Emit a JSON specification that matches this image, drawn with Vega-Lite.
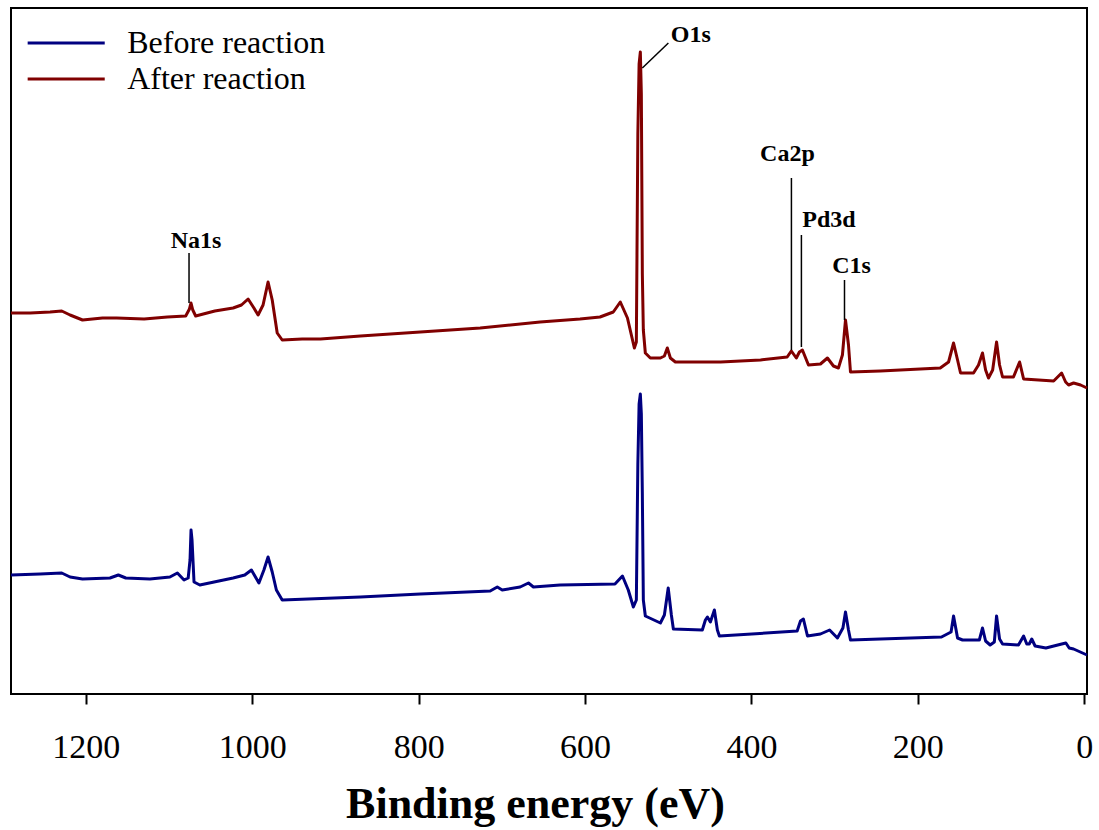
{
  "$schema": "https://vega.github.io/schema/vega-lite/v6.json",
  "width": 1076,
  "height": 686,
  "autosize": "none",
  "padding": {"left": 11, "top": 8, "right": 12, "bottom": 136},
  "background": "white",
  "config": {"view": {"stroke": "black", "strokeWidth": 2}, "font": "Liberation Serif"},
  "datasets": {
    "spectra": [
      {"s": "After reaction", "e": 1290, "i": 381}, {"s": "After reaction", "e": 1267, "i": 381}, {"s": "After reaction", "e": 1243, "i": 382}, {"s": "After reaction", "e": 1229, "i": 383}, {"s": "After reaction", "e": 1219, "i": 379}, {"s": "After reaction", "e": 1204, "i": 374}, {"s": "After reaction", "e": 1180, "i": 376}, {"s": "After reaction", "e": 1163, "i": 376}, {"s": "After reaction", "e": 1130, "i": 375}, {"s": "After reaction", "e": 1102, "i": 377}, {"s": "After reaction", "e": 1080, "i": 378}, {"s": "After reaction", "e": 1075.5, "i": 385}, {"s": "After reaction", "e": 1073.6, "i": 391}, {"s": "After reaction", "e": 1071.5, "i": 384}, {"s": "After reaction", "e": 1068, "i": 378}, {"s": "After reaction", "e": 1045, "i": 383}, {"s": "After reaction", "e": 1023, "i": 386}, {"s": "After reaction", "e": 1013, "i": 389}, {"s": "After reaction", "e": 1005, "i": 395}, {"s": "After reaction", "e": 998, "i": 386}, {"s": "After reaction", "e": 993, "i": 379}, {"s": "After reaction", "e": 987, "i": 389}, {"s": "After reaction", "e": 981, "i": 412}, {"s": "After reaction", "e": 976, "i": 394}, {"s": "After reaction", "e": 970, "i": 361}, {"s": "After reaction", "e": 964, "i": 354}, {"s": "After reaction", "e": 940, "i": 355}, {"s": "After reaction", "e": 918, "i": 355}, {"s": "After reaction", "e": 870, "i": 358}, {"s": "After reaction", "e": 798, "i": 362}, {"s": "After reaction", "e": 726, "i": 366}, {"s": "After reaction", "e": 654, "i": 372}, {"s": "After reaction", "e": 606, "i": 375}, {"s": "After reaction", "e": 582, "i": 377}, {"s": "After reaction", "e": 566, "i": 382}, {"s": "After reaction", "e": 557.6, "i": 392}, {"s": "After reaction", "e": 549, "i": 376}, {"s": "After reaction", "e": 540.7, "i": 346}, {"s": "After reaction", "e": 538.3, "i": 352}, {"s": "After reaction", "e": 536.5, "i": 560}, {"s": "After reaction", "e": 535, "i": 630}, {"s": "After reaction", "e": 533.5, "i": 642}, {"s": "After reaction", "e": 532.3, "i": 600}, {"s": "After reaction", "e": 531.1, "i": 420}, {"s": "After reaction", "e": 529.9, "i": 364}, {"s": "After reaction", "e": 527.5, "i": 341}, {"s": "After reaction", "e": 521.5, "i": 336}, {"s": "After reaction", "e": 509.4, "i": 336}, {"s": "After reaction", "e": 504.6, "i": 338}, {"s": "After reaction", "e": 501.1, "i": 346}, {"s": "After reaction", "e": 497.4, "i": 336}, {"s": "After reaction", "e": 491.4, "i": 332}, {"s": "After reaction", "e": 437, "i": 332}, {"s": "After reaction", "e": 389, "i": 334}, {"s": "After reaction", "e": 357, "i": 337}, {"s": "After reaction", "e": 352, "i": 343}, {"s": "After reaction", "e": 346, "i": 336}, {"s": "After reaction", "e": 342.3, "i": 342}, {"s": "After reaction", "e": 338.7, "i": 344}, {"s": "After reaction", "e": 331.4, "i": 329}, {"s": "After reaction", "e": 317, "i": 330}, {"s": "After reaction", "e": 308.6, "i": 336}, {"s": "After reaction", "e": 301.4, "i": 328}, {"s": "After reaction", "e": 295.4, "i": 326}, {"s": "After reaction", "e": 290.6, "i": 339}, {"s": "After reaction", "e": 286.9, "i": 374}, {"s": "After reaction", "e": 283.3, "i": 349}, {"s": "After reaction", "e": 280.9, "i": 322}, {"s": "After reaction", "e": 245, "i": 323}, {"s": "After reaction", "e": 197, "i": 325}, {"s": "After reaction", "e": 173, "i": 326}, {"s": "After reaction", "e": 163, "i": 332}, {"s": "After reaction", "e": 157, "i": 351}, {"s": "After reaction", "e": 152.2, "i": 334}, {"s": "After reaction", "e": 148.6, "i": 321}, {"s": "After reaction", "e": 133, "i": 321}, {"s": "After reaction", "e": 127, "i": 329}, {"s": "After reaction", "e": 122.2, "i": 341}, {"s": "After reaction", "e": 118.5, "i": 324}, {"s": "After reaction", "e": 115, "i": 316}, {"s": "After reaction", "e": 110, "i": 324}, {"s": "After reaction", "e": 105.3, "i": 352}, {"s": "After reaction", "e": 101.7, "i": 329}, {"s": "After reaction", "e": 98.1, "i": 317}, {"s": "After reaction", "e": 85, "i": 317}, {"s": "After reaction", "e": 77.6, "i": 332}, {"s": "After reaction", "e": 72.8, "i": 315}, {"s": "After reaction", "e": 36.7, "i": 313}, {"s": "After reaction", "e": 30.7, "i": 318}, {"s": "After reaction", "e": 27.1, "i": 321}, {"s": "After reaction", "e": 22.3, "i": 312}, {"s": "After reaction", "e": 18.7, "i": 309}, {"s": "After reaction", "e": 12.7, "i": 311}, {"s": "After reaction", "e": 4.3, "i": 309}, {"s": "After reaction", "e": -3.4, "i": 306},
      {"s": "Before reaction", "e": 1290, "i": 119}, {"s": "Before reaction", "e": 1255, "i": 120}, {"s": "Before reaction", "e": 1229, "i": 121}, {"s": "Before reaction", "e": 1219, "i": 117}, {"s": "Before reaction", "e": 1204, "i": 115}, {"s": "Before reaction", "e": 1171, "i": 116}, {"s": "Before reaction", "e": 1161, "i": 119}, {"s": "Before reaction", "e": 1152, "i": 116}, {"s": "Before reaction", "e": 1123, "i": 115}, {"s": "Before reaction", "e": 1099, "i": 117}, {"s": "Before reaction", "e": 1090, "i": 121}, {"s": "Before reaction", "e": 1082, "i": 114}, {"s": "Before reaction", "e": 1077, "i": 116}, {"s": "Before reaction", "e": 1074.8, "i": 134}, {"s": "Before reaction", "e": 1073.6, "i": 164}, {"s": "Before reaction", "e": 1072.4, "i": 154}, {"s": "Before reaction", "e": 1070, "i": 112}, {"s": "Before reaction", "e": 1063, "i": 109}, {"s": "Before reaction", "e": 1023, "i": 116}, {"s": "Before reaction", "e": 1009, "i": 119}, {"s": "Before reaction", "e": 1001, "i": 124}, {"s": "Before reaction", "e": 992, "i": 111}, {"s": "Before reaction", "e": 986, "i": 124}, {"s": "Before reaction", "e": 981, "i": 137}, {"s": "Before reaction", "e": 976, "i": 122}, {"s": "Before reaction", "e": 971, "i": 104}, {"s": "Before reaction", "e": 964, "i": 94}, {"s": "Before reaction", "e": 870, "i": 97}, {"s": "Before reaction", "e": 798, "i": 100}, {"s": "Before reaction", "e": 714, "i": 103}, {"s": "Before reaction", "e": 705.5, "i": 107}, {"s": "Before reaction", "e": 699.5, "i": 104}, {"s": "Before reaction", "e": 678, "i": 107}, {"s": "Before reaction", "e": 668, "i": 111}, {"s": "Before reaction", "e": 662, "i": 107}, {"s": "Before reaction", "e": 630, "i": 109}, {"s": "Before reaction", "e": 564, "i": 110}, {"s": "Before reaction", "e": 555, "i": 118}, {"s": "Before reaction", "e": 548, "i": 104}, {"s": "Before reaction", "e": 541.9, "i": 87}, {"s": "Before reaction", "e": 538.3, "i": 94}, {"s": "Before reaction", "e": 536.5, "i": 230}, {"s": "Before reaction", "e": 535, "i": 290}, {"s": "Before reaction", "e": 533.5, "i": 300}, {"s": "Before reaction", "e": 532.3, "i": 280}, {"s": "Before reaction", "e": 531.1, "i": 200}, {"s": "Before reaction", "e": 529.9, "i": 94}, {"s": "Before reaction", "e": 527.5, "i": 78}, {"s": "Before reaction", "e": 509.4, "i": 71}, {"s": "Before reaction", "e": 504.6, "i": 79}, {"s": "Before reaction", "e": 500, "i": 106}, {"s": "Before reaction", "e": 496.2, "i": 79}, {"s": "Before reaction", "e": 493.8, "i": 65}, {"s": "Before reaction", "e": 459, "i": 64}, {"s": "Before reaction", "e": 455.3, "i": 74}, {"s": "Before reaction", "e": 452.9, "i": 77}, {"s": "Before reaction", "e": 449.3, "i": 72}, {"s": "Before reaction", "e": 444.5, "i": 84}, {"s": "Before reaction", "e": 440.9, "i": 64}, {"s": "Before reaction", "e": 438.5, "i": 58}, {"s": "Before reaction", "e": 345, "i": 63}, {"s": "Before reaction", "e": 341, "i": 73}, {"s": "Before reaction", "e": 337.5, "i": 75}, {"s": "Before reaction", "e": 332.6, "i": 58}, {"s": "Before reaction", "e": 317, "i": 60}, {"s": "Before reaction", "e": 306, "i": 64}, {"s": "Before reaction", "e": 296.6, "i": 56}, {"s": "Before reaction", "e": 290, "i": 66}, {"s": "Before reaction", "e": 286.9, "i": 82}, {"s": "Before reaction", "e": 283.3, "i": 64}, {"s": "Before reaction", "e": 280.9, "i": 54}, {"s": "Before reaction", "e": 245, "i": 55}, {"s": "Before reaction", "e": 171.5, "i": 57}, {"s": "Before reaction", "e": 160, "i": 62}, {"s": "Before reaction", "e": 157, "i": 78}, {"s": "Before reaction", "e": 152.2, "i": 56}, {"s": "Before reaction", "e": 146.2, "i": 54}, {"s": "Before reaction", "e": 126, "i": 54}, {"s": "Before reaction", "e": 122.2, "i": 66}, {"s": "Before reaction", "e": 118.5, "i": 53}, {"s": "Before reaction", "e": 113, "i": 49}, {"s": "Before reaction", "e": 108, "i": 52}, {"s": "Before reaction", "e": 105.3, "i": 78}, {"s": "Before reaction", "e": 101.7, "i": 55}, {"s": "Before reaction", "e": 98.1, "i": 50}, {"s": "Before reaction", "e": 79, "i": 49}, {"s": "Before reaction", "e": 72.8, "i": 58}, {"s": "Before reaction", "e": 69, "i": 50}, {"s": "Before reaction", "e": 66, "i": 50}, {"s": "Before reaction", "e": 63, "i": 55}, {"s": "Before reaction", "e": 59, "i": 48}, {"s": "Before reaction", "e": 46, "i": 46}, {"s": "Before reaction", "e": 27, "i": 50}, {"s": "Before reaction", "e": 22, "i": 51}, {"s": "Before reaction", "e": 18, "i": 46}, {"s": "Before reaction", "e": 12.7, "i": 45}, {"s": "Before reaction", "e": -3.4, "i": 39}
    ],
    "leaders": [
      {"e": 499.8, "i": 651, "e2": 531.1, "i2": 626},
      {"e": 351.9, "i": 516, "e2": 351.9, "i2": 344},
      {"e": 339.9, "i": 459, "e2": 339.9, "i2": 347},
      {"e": 288.1, "i": 414, "e2": 288.1, "i2": 374},
      {"e": 1076.0, "i": 441, "e2": 1076.0, "i2": 391}
    ],
    "labels": [
      {"label": "O1s", "e": 472.8, "i": 652},
      {"label": "Ca2p", "e": 356.7, "i": 533},
      {"label": "Pd3d", "e": 306.8, "i": 467},
      {"label": "C1s", "e": 279.7, "i": 421},
      {"label": "Na1s", "e": 1067.6, "i": 446}
    ]
  },
  "layer": [
    {
      "data": {"name": "spectra"},
      "mark": {"type": "line", "strokeWidth": 3, "strokeJoin": "round"},
      "encoding": {
        "x": {
          "field": "e", "type": "quantitative",
          "scale": {"domain": [-3.4, 1290], "reverse": true, "nice": false, "zero": false},
          "axis": {
            "values": [0, 200, 400, 600, 800, 1000, 1200],
            "format": "d",
            "title": "Binding energy (eV)",
            "titleFont": "Liberation Serif", "titleFontSize": 44, "titleFontWeight": "bold", "titleColor": "black",
            "titleBaseline": "alphabetic", "titleY": 123, "titleX": 524,
            "labelFont": "Liberation Serif", "labelFontSize": 34, "labelColor": "black",
            "labelBaseline": "alphabetic", "labelPadding": 53, "labelFlush": false, "labelOverlap": false,
            "tickSize": 10, "tickWidth": 2, "tickColor": "black", "domain": false, "grid": false
          }
        },
        "y": {"field": "i", "type": "quantitative", "scale": {"domain": [0, 686], "nice": false, "zero": false}, "axis": null},
        "color": {
          "field": "s", "type": "nominal",
          "scale": {"domain": ["Before reaction", "After reaction"], "range": ["#000080", "#800000"]},
          "legend": {
            "orient": "none", "legendX": 39.2, "legendY": 19, "title": null,
            "symbolType": "M-3,0H3", "symbolSize": 660, "symbolStrokeWidth": 3,
            "labelFont": "Liberation Serif", "labelFontSize": 32, "labelColor": "black",
            "labelOffset": 45, "padding": 0, "rowPadding": 4, "labelLimit": 400
          }
        }
      }
    },
    {
      "data": {"name": "leaders"},
      "mark": {"type": "rule", "color": "black", "strokeWidth": 1.5},
      "encoding": {
        "x": {"field": "e", "type": "quantitative"},
        "x2": {"field": "e2"},
        "y": {"field": "i", "type": "quantitative"},
        "y2": {"field": "i2"}
      }
    },
    {
      "data": {"name": "labels"},
      "mark": {"type": "text", "font": "Liberation Serif", "fontSize": 24, "fontWeight": "bold", "align": "center", "baseline": "alphabetic", "color": "black"},
      "encoding": {
        "x": {"field": "e", "type": "quantitative"},
        "y": {"field": "i", "type": "quantitative"},
        "text": {"field": "label"}
      }
    }
  ]
}
